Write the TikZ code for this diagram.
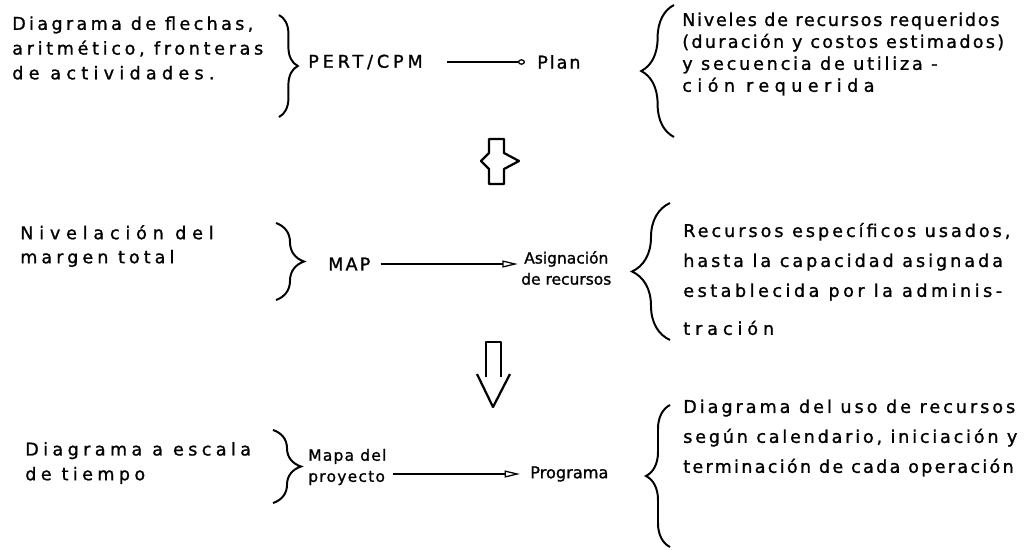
\documentclass[tikz,border=0pt]{standalone}
\usepackage{fontspec}
\newfontfamily\scanfont{DejaVu Sans}[FakeBold=1.2]
\usetikzlibrary{arrows.meta,positioning,calc,decorations.pathreplacing}

\begin{document}
\begin{tikzpicture}[
    x=0.025cm, y=-0.025cm,
    note/.style={font=\scanfont\fontsize{12.5}{15.6}\selectfont\addfontfeature{LetterSpace=#1},
        align=left, anchor=west, inner sep=0pt},
    note/.default=15,
    term/.style={font=\scanfont\fontsize{11}{15}\selectfont\addfontfeature{LetterSpace=#1},
        align=center, anchor=west, inner sep=0pt},
    term/.default=0,
    flow/.style={line width=0.9pt, -{Triangle[open, length=11pt, width=5pt, line width=0.9pt]}},
    curly/.style={decorate, decoration={brace, amplitude=#1}, line width=1.4pt},
    hollow/.style={line width=1.6pt, line join=round}
]
\useasboundingbox (0,0) rectangle (1028,549);

% first row: PERT/CPM
\node[note=19] (arrowdiag) at (12,48) {Diagrama de flechas,\\[2pt]
    {\addfontfeature{LetterSpace=21}aritmético, fronteras}\\[2pt]
    {\addfontfeature{LetterSpace=30}de actividades.}};
\draw[curly=0.47cm] (279,15) -- (279,117);
\node[note=22] (pert) at (308,62) {PERT/CPM};
\node[note=11] (plan) at (537,62) {Plan};
\draw[line width=0.9pt, -{Circle[open, length=5pt, width=4pt, line width=0.9pt]},
    shorten <=0.6cm, shorten >=0.3cm] (pert) -- (plan);
\draw[curly=0.82cm] (674,137) -- (674,5);
\node[note=10] (levels) at (682,54) {Niveles de recursos requeridos\\
    {\addfontfeature{LetterSpace=13}(duración y costos estimados)}\\
    {\addfontfeature{LetterSpace=16}y secuencia de utiliza -}\\
    {\addfontfeature{LetterSpace=31}ción requerida}};

% hollow cross between first and second row
\draw[hollow] (489,139) -- (504,139) -- (504,153) -- (519,161) -- (504,169)
    -- (504,184) -- (489,184) -- (489,169) -- (481,161) -- (489,153) -- cycle;

% second row: MAP
\node[note=33] (slack) at (20,246) {Nivelación del\\[1.5pt]
    {\addfontfeature{LetterSpace=23}margen total}};
\draw[curly=0.7cm] (276,223) -- (276,300);
\node[note=12] (map) at (328,264) {MAP};
\node[term] (asig) at (521,268) {Asignación\\ de recursos};
\draw[flow, shorten <=0.25cm, shorten >=0.08cm] (map.east) -- (map.east -| asig.west);
\draw[curly=0.95cm] (670,340) -- (670,203);
\node[note=17] (specific) at (683,279) {Recursos específicos usados,\\[5.7pt]
    hasta la capacidad asignada\\[5.7pt]
    {\addfontfeature{LetterSpace=20}establecida por la adminis-}\\[11.4pt]
    {\addfontfeature{LetterSpace=28}tración}};

% hollow down arrow
\draw[hollow] (486,377) -- (486,342) -- (501,342) -- (501,377);
\draw[hollow] (477,374) -- (493,407) -- (510,374);

% third row: project map
\node[note=25] (timescale) at (25,463) {Diagrama a escala\\[2pt] de tiempo};
\draw[curly=0.7cm] (273,430) -- (273,503);
\node[term=8, align=left] (mapa) at (308,467) {Mapa del\\ proyecto};
\node[note=0, font=\scanfont\fontsize{11.5}{15}\selectfont] (prog) at (530,474) {Programa};
\draw[flow, shorten <=0.15cm, shorten >=0.25cm] (mapa.east |- prog) -- (prog);
\draw[curly=0.6cm] (670,547) -- (670,405);
\node[note=17] (usage) at (683,438) {Diagrama del uso de recursos\\[5.7pt]
    {\addfontfeature{LetterSpace=16}según calendario, iniciación y}\\[5.7pt]
    {\addfontfeature{LetterSpace=13}terminación de cada operación}};
\end{tikzpicture}
\end{document}
